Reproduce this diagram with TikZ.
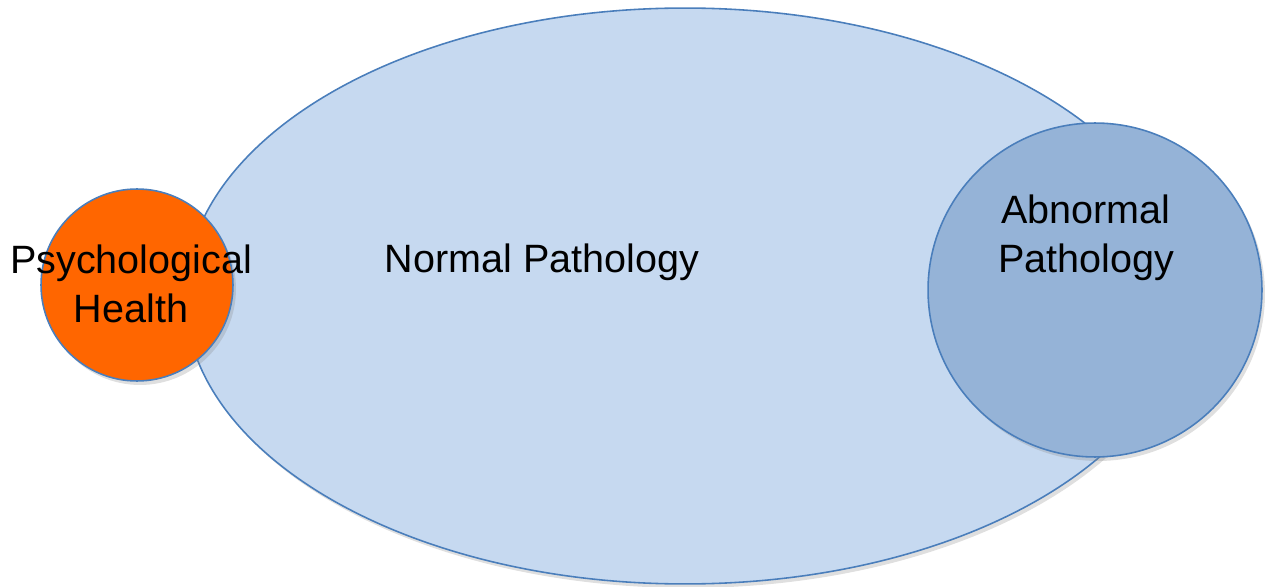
\documentclass[tikz,border=0pt]{standalone}
\usepackage{fontspec}
\setmainfont{Liberation Sans}
\usepackage{tikz}
\usetikzlibrary{shapes.geometric}
\usetikzlibrary{shadows}

\definecolor{paleblue}{HTML}{C6D9F0}
\definecolor{midblue}{HTML}{95B3D7}
\definecolor{rimblue}{HTML}{4A7EBB}
\definecolor{healthorange}{HTML}{FF6600}

\begin{document}
\begin{tikzpicture}[x=0.02cm, y=-0.02cm,
    blob/.style={draw=rimblue, line width=0.9pt, inner sep=0pt,
        drop shadow={opacity=0.25, shadow xshift=0.06cm, shadow yshift=-0.08cm}},
    word/.style={font=\fontsize{22.5}{28}\selectfont, align=center, inner sep=0pt}]
\useasboundingbox (0, 0) rectangle (1273, 587);
\node[blob, ellipse, fill=paleblue, minimum width=20cm, minimum height=11.52cm] (normal) at (685, 296) {};
\node[blob, circle, fill=healthorange, minimum size=3.84cm] (health) at (137, 285) {};
\node[blob, circle, fill=midblue, minimum size=6.68cm] (abnormal) at (1095, 290) {};
\node[word] (healthtext) at (131, 284) {Psychological\\Health};
\node[word] (normaltext) at (542, 262) {Normal Pathology};
\node[word] (abnormaltext) at (1086, 238) {Abnormal\\Pathology};
\end{tikzpicture}
\end{document}
